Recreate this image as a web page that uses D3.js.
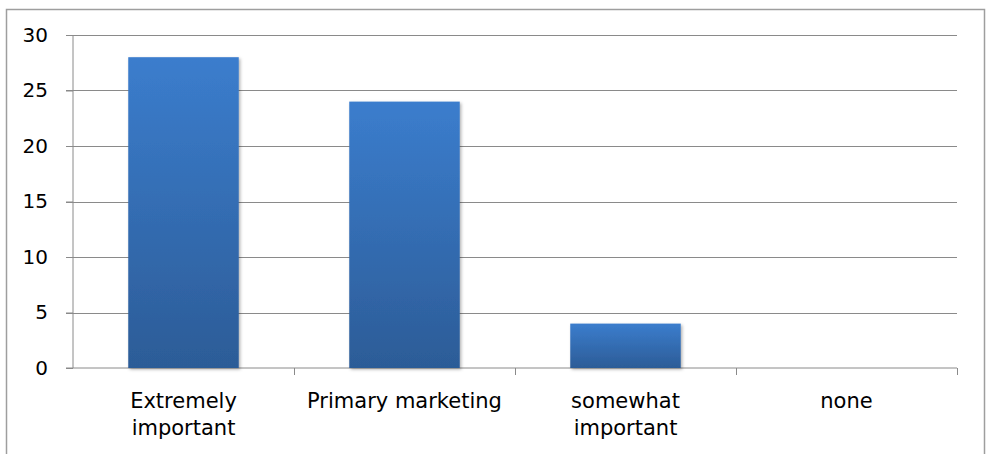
<!DOCTYPE html>
<html>
<head>
<meta charset="utf-8">
<script src="https://cdn.jsdelivr.net/npm/d3@7"></script>
<style>
  body { margin: 0; background: #fff; }
  svg { display: block; font-family: 'DejaVu Sans', sans-serif; }
</style>
</head>
<body>
<div class="chart"></div>
<script>
const categories = [['Extremely', 'important'], ['Primary marketing'], ['somewhat', 'important'], ['none']];
const values = [28, 24, 4, 0];
const yTicks = [0, 5, 10, 15, 20, 25, 30];

const W = 986, H = 454;
let margin = {top: 35, right: 29, bottom: 86, left: 73};
let width = W - margin.left - margin.right;
let height = H - margin.top - margin.bottom;

let svg = d3.select('.chart').append('svg')
    .attr('width', W)
    .attr('height', H);

// gradient + shadow for the bars
let defs = svg.append('defs');
let grad = defs.append('linearGradient')
    .attr('id', 'barGrad')
    .attr('x1', 0).attr('y1', 0).attr('x2', 0).attr('y2', 1);
grad.append('stop').attr('offset', '0%').attr('stop-color', '#3b7dcd');
grad.append('stop').attr('offset', '100%').attr('stop-color', '#2c5c97');
defs.append('filter')
    .attr('id', 'shadow')
    .attr('x', '-10%').attr('y', '-10%').attr('width', '130%').attr('height', '130%')
  .append('feDropShadow')
    .attr('dx', 1.5).attr('dy', 1.5).attr('stdDeviation', 1.5)
    .attr('flood-color', '#000').attr('flood-opacity', 0.3);

// outer chart border
svg.append('rect')
    .attr('x', 6.5).attr('y', 9.5)
    .attr('width', 978).attr('height', 460)
    .attr('fill', 'none')
    .attr('stroke', '#9e9e9e')
    .attr('stroke-width', 1.5);

let g = svg.append('g')
    .attr('transform', 'translate(' + margin.left + ',' + margin.top + ')');

let yScale = d3.scaleLinear()
    .domain([0, 30])
    .range([height, 0]);

let xScale = d3.scaleBand()
    .domain(d3.range(categories.length))
    .range([0, width])
    .paddingInner(0.5)
    .paddingOuter(0.25);

// gridlines
g.append('g')
    .selectAll('line')
    .data(yTicks.filter(d => d > 0)).enter()
    .append('line')
    .attr('x1', -7).attr('x2', width)
    .attr('y1', d => Math.round(yScale(d)) + 0.5)
    .attr('y2', d => Math.round(yScale(d)) + 0.5)
    .attr('stroke', '#8a8a8a')
    .attr('stroke-width', 1.2);

// y axis
let yAxis = d3.axisLeft(yScale)
    .tickValues(yTicks)
    .tickSize(7)
    .tickPadding(18);

g.append('g')
    .attr('class', 'y axis')
    .call(yAxis)
    .call(s => s.select('.domain').attr('stroke', '#8a8a8a').attr('d', 'M-7,' + height + 'H0V0'))
    .call(s => s.selectAll('.tick line').attr('stroke', '#8a8a8a'))
    .selectAll('text')
        .attr('font-size', 20)
        .attr('fill', '#000')
        .attr('font-family', 'DejaVu Sans, sans-serif');

// x axis, ticks sit on the category boundaries
let xEdge = d3.scaleLinear().domain([0, categories.length]).range([0, width]);
let xAxis = d3.axisBottom(xEdge)
    .tickValues(d3.range(1, categories.length + 1))
    .tickSize(7)
    .tickFormat('');

g.append('g')
    .attr('class', 'x axis')
    .attr('transform', 'translate(0,' + height + ')')
    .call(xAxis)
    .call(s => s.select('.domain').attr('stroke', '#8a8a8a').attr('d', 'M0,0H' + width))
    .call(s => s.selectAll('.tick line').attr('stroke', '#8a8a8a'));

// bars
g.append('g')
    .selectAll('rect')
    .data(values).enter()
    .append('rect')
    .attr('x', (d, i) => xScale(i))
    .attr('y', d => yScale(d))
    .attr('width', xScale.bandwidth())
    .attr('height', d => height - yScale(d))
    .attr('fill', 'url(#barGrad)')
    .attr('filter', 'url(#shadow)')
    .style('display', d => d > 0 ? null : 'none');

// category labels
let labels = g.append('g')
    .selectAll('text')
    .data(categories).enter()
    .append('text')
    .attr('x', (d, i) => xScale(i) + xScale.bandwidth() / 2)
    .attr('y', height + 40)
    .attr('text-anchor', 'middle')
    .attr('font-size', 21)
    .attr('fill', '#000');

labels.selectAll('tspan')
    .data(d => d).enter()
    .append('tspan')
    .attr('x', function(){ return this.parentNode.getAttribute('x'); })
    .attr('dy', (d, i) => i === 0 ? 0 : 27)
    .text(d => d);
</script>
</body>
</html>
